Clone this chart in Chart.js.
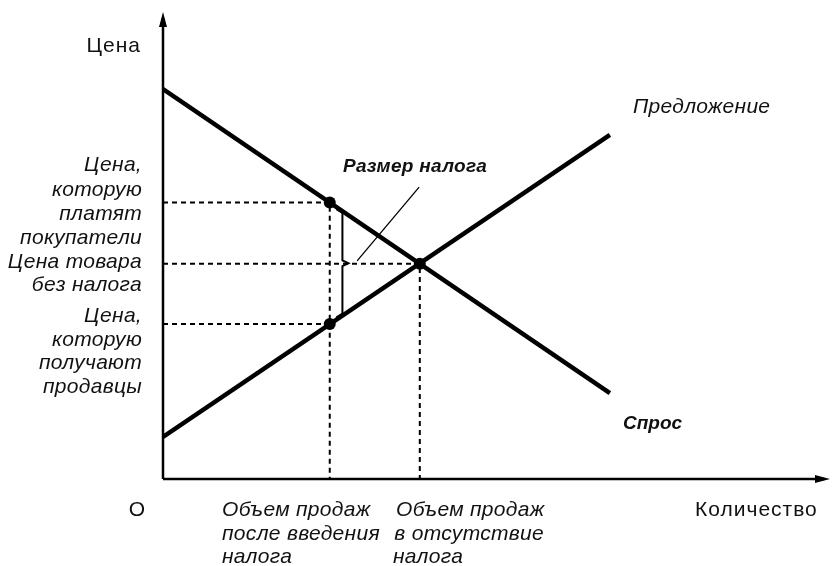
<!DOCTYPE html>
<html>
<head>
<meta charset="utf-8">
<script src="https://cdn.jsdelivr.net/npm/chart.js@4"></script>
<style>
  html, body { margin: 0; padding: 0; background: #fff; }
  #wrap { width: 836px; height: 566px; }
</style>
</head>
<body>
<div id="wrap"><canvas id="c" width="836" height="566"></canvas></div>
<script>
// ===== данные (в условных единицах: количество 0..100, цена 0..100) =====
const demandQ = [0, 67];
const demandP = [83.5, 18.4];
const supplyQ = [0, 67];
const supplyP = [9, 73.7];

const qTax = 25;      // объем продаж после введения налога
const qEq = 38.5;     // объем продаж без налога
const pBuyer = 59.2;  // цена, которую платят покупатели
const pEq = 46.1;     // цена без налога
const pSeller = 33.2; // цена, которую получают продавцы

// фигурная скобка (размер налога) и выноска
const braceQ = [26.0, 26.9, 26.9, 27.8, 26.9, 26.9, 26.0];
const braceP = [57.8, 57.0, 46.8, 46.2, 45.6, 35.4, 34.6];
const leaderQ = [29.1, 38.4];
const leaderP = [46.7, 62.5];

const toPts = (xs, ys) => xs.map((x, i) => ({ x, y: ys[i] }));

const dashStyle = { borderColor: '#000', borderWidth: 2, borderDash: [5, 4], pointRadius: 0, showLine: true, fill: false };

// ===== оси со стрелками + подписи =====
const decor = {
  id: 'decor',
  afterDatasetsDraw(chart) {
    const { ctx, chartArea: a } = chart;
    ctx.save();
    ctx.strokeStyle = '#000';
    ctx.fillStyle = '#000';
    ctx.lineWidth = 2.5;
    ctx.beginPath();
    ctx.moveTo(a.left, a.bottom);
    ctx.lineTo(a.left, a.top + 6);
    ctx.moveTo(a.left, a.bottom);
    ctx.lineTo(a.right - 6, a.bottom);
    ctx.stroke();
    // стрелки
    ctx.beginPath();
    ctx.moveTo(a.left, a.top);
    ctx.lineTo(a.left - 4, a.top + 15);
    ctx.lineTo(a.left + 4, a.top + 15);
    ctx.closePath();
    ctx.fill();
    ctx.beginPath();
    ctx.moveTo(a.right, a.bottom);
    ctx.lineTo(a.right - 15, a.bottom - 4);
    ctx.lineTo(a.right - 15, a.bottom + 4);
    ctx.closePath();
    ctx.fill();
    ctx.restore();
  },
  afterDraw(chart) {
    const { ctx } = chart;
    const FONT = '"Liberation Sans", Arial, sans-serif';
    const txt = (s, x, y, font, align, ls) => {
      ctx.font = font;
      ctx.letterSpacing = ls || '0px';
      ctx.textAlign = align || 'left';
      ctx.fillText(s, x, y);
    };
    ctx.save();
    ctx.fillStyle = '#111';
    ctx.textBaseline = 'middle';
    const up = '21px ' + FONT, it = 'italic 21px ' + FONT, bi = 'italic bold 19px ' + FONT;

    txt('Цена', 141, 46, up, 'right', '1px');
    [['Цена,', 165], ['которую', 190], ['платят', 214], ['покупатели', 238],
     ['Цена товара', 262], ['без налога', 285],
     ['Цена,', 316], ['которую', 340], ['получают', 363], ['продавцы', 387]]
      .forEach(([s, y]) => txt(s, 142, y, it, 'right', '0.3px'));

    txt('O', 137, 510, up, 'center', '0px');
    txt('Объем продаж', 222, 510, it, 'left', '0.3px');
    txt('после введения', 222, 534, it, 'left', '0.3px');
    txt('налога', 222, 557, it, 'left', '0.3px');
    txt('Объем продаж', 396, 510, it, 'left', '0.3px');
    txt('в отсутствие', 544, 534, it, 'right', '0.3px');
    txt('налога', 393, 557, it, 'left', '0.3px');
    txt('Количество', 695, 510, up, 'left', '1px');

    txt('Предложение', 633, 107, it, 'left', '0.3px');
    txt('Спрос', 623, 424, bi, 'left', '0px');
    txt('Размер налога', 343, 167, bi, 'left', '0.3px');
    ctx.restore();
  }
};

new Chart(document.getElementById('c'), {
  type: 'scatter',
  data: {
    datasets: [
      { label: 'Спрос', data: toPts(demandQ, demandP), showLine: true, borderColor: '#000', borderWidth: 4.5, pointRadius: 0 },
      { label: 'Предложение', data: toPts(supplyQ, supplyP), showLine: true, borderColor: '#000', borderWidth: 4.5, pointRadius: 0 },
      { label: 'buyer', data: [{ x: 0, y: pBuyer }, { x: qTax, y: pBuyer }, { x: qTax, y: 0 }], ...dashStyle },
      { label: 'seller', data: [{ x: 0, y: pSeller }, { x: qTax, y: pSeller }], ...dashStyle },
      { label: 'eq', data: [{ x: 0, y: pEq }, { x: qEq, y: pEq }, { x: qEq, y: 0 }], ...dashStyle },
      { label: 'brace', data: toPts(braceQ, braceP), showLine: true, borderColor: '#000', borderWidth: 2, pointRadius: 0, tension: 0 },
      { label: 'leader', data: toPts(leaderQ, leaderP), showLine: true, borderColor: '#000', borderWidth: 1.3, pointRadius: 0 },
      { label: 'points', data: [{ x: qTax, y: pBuyer }, { x: qTax, y: pSeller }, { x: qEq, y: pEq }],
        showLine: false, pointRadius: 6, pointBackgroundColor: '#000', pointBorderColor: '#000', pointBorderWidth: 0 }
    ]
  },
  options: {
    responsive: false,
    animation: false,
    layout: { padding: { left: 163, right: 4, top: 12, bottom: 87 } },
    plugins: { legend: { display: false }, tooltip: { enabled: false } },
    scales: {
      x: { type: 'linear', min: 0, max: 100, display: false },
      y: { type: 'linear', min: 0, max: 100, display: false }
    }
  },
  plugins: [decor]
});
</script>
</body>
</html>
